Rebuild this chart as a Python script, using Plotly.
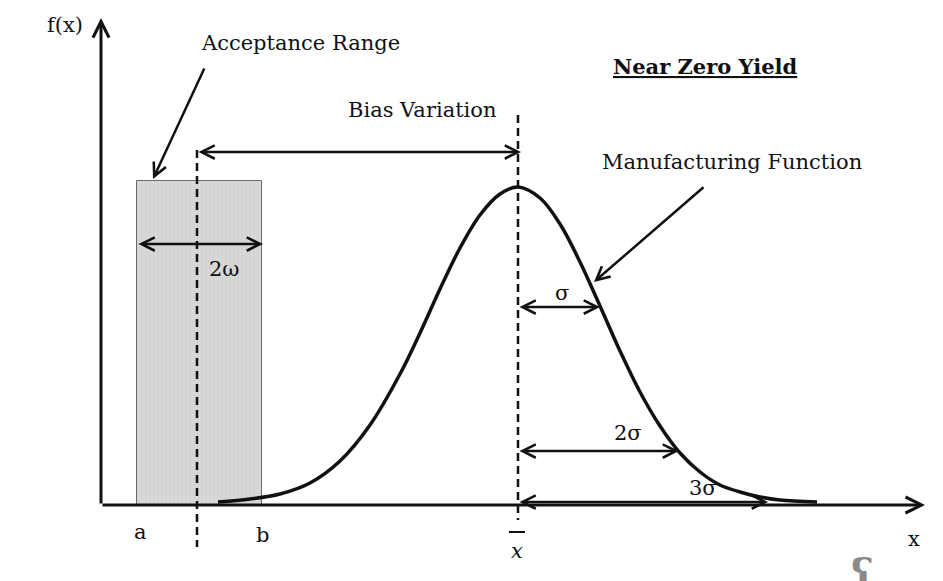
import plotly.graph_objects as go

# ---------------- data (x/y in drawing units, y = height above the x axis)
curve_x = [218, 250, 280, 310, 340, 370, 400, 420, 440, 460, 480, 500, 518,
           540, 560, 580, 600, 620, 640, 660, 680, 700, 720, 740, 760, 780, 817]
curve_y = [3, 6, 11, 22, 44, 80, 131, 172, 216, 257, 290, 311, 318,
           307, 281, 243, 199, 154, 113, 79, 52, 33, 20, 13, 8, 5, 3]

mean_x = 518
sigma_ends = [600, 679, 768]          # x where the 1σ, 2σ, 3σ arrows end
sigma_heights = [198, 54, 3]          # height of those arrows
sigma_labels = ["σ", "2σ", "3σ"]

range_a, range_b = 137, 262           # acceptance range edges
range_height = 324
range_center = 197                    # dashed centre line of acceptance range
omega_height = 261

bias_height = 353

axis_x_end = 925
axis_y_end = 487

FONT = "DejaVu Serif"
INK = "#111111"
FS = 21

fig = go.Figure()

# acceptance range box
fig.add_trace(go.Bar(
    x=[(range_a + range_b) / 2], y=[range_height], width=[range_b - range_a],
    marker=dict(color="#d5d5d5", line=dict(color="#6a6a6a", width=1),
                pattern=dict(shape="|", size=4, solidity=0.25,
                             fgcolor="#c6c6c6", bgcolor="#d8d8d8")),
    showlegend=False, hoverinfo="skip"))

# manufacturing function curve
fig.add_trace(go.Scatter(
    x=curve_x, y=curve_y, mode="lines",
    line=dict(color=INK, width=3.5, shape="spline", smoothing=1.0),
    showlegend=False, hoverinfo="skip"))

shapes = []
# dashed vertical lines
shapes.append(dict(type="line", x0=range_center, x1=range_center, y0=355, y1=-42,
                   line=dict(color=INK, width=2.5, dash="8px,5px")))
shapes.append(dict(type="line", x0=mean_x, x1=mean_x, y0=390, y1=-15,
                   line=dict(color=INK, width=2.5, dash="8px,5px")))
# bar over x in x-bar label
shapes.append(dict(type="line", x0=509, x1=525, y0=-27, y1=-27,
                   line=dict(color=INK, width=2)))

annotations = []


def arrow(x0, y0, x1, y1, both=False, width=2.5):
    annotations.append(dict(
        x=x1, y=y1, ax=x0, ay=y0, xref="x", yref="y", axref="x", ayref="y",
        text="", showarrow=True, arrowhead=5, startarrowhead=5,
        arrowsize=1.05, startarrowsize=1.05, arrowwidth=width, arrowcolor=INK,
        arrowside="end+start" if both else "end", standoff=0, startstandoff=0))


# axes
arrow(101, 0, axis_x_end, 0, width=3)
arrow(101, 0, 101, axis_y_end, width=3)

# pointer arrows
arrow(205, 438, 153, 326)
arrow(705, 319, 594, 223)

# double arrows
arrow(range_center, bias_height, 521, bias_height, both=True)
arrow(range_a, omega_height, range_b + 1, omega_height, both=True)
for xe, h in zip(sigma_ends, sigma_heights):
    arrow(mean_x, h, xe, h, both=True)


def label(x, y, text, size=FS, color=INK, **kw):
    annotations.append(dict(x=x, y=y, xref="x", yref="y", text=text, showarrow=False,
                            font=dict(family=FONT, size=size, color=color),
                            xanchor="center", yanchor="middle", **kw))


label(65, 480, "f(x)")
label(300, 462, "Acceptance Range")
label(705, 439, "<b><u>Near Zero Yield</u></b>")
label(422, 395, "Bias Variation")
label(732, 343, "Manufacturing Function")
label(224, 236, "2ω")
label(562, 212, sigma_labels[0])
label(628, 72, sigma_labels[1])
label(703, 17, sigma_labels[2])
label(140, -27, "a")
label(262, -30, "b")
label(517, -46, "<i>x</i>")
label(914, -34, "x")
label(862, -67, "<b>ʕ</b>", size=40, color="#8a8a8a")

# the page body has an 8px margin: shift the data window so the drawing lands in place
fig.update_layout(
    width=935, height=573, margin=dict(l=0, r=0, t=0, b=0),
    paper_bgcolor="white", plot_bgcolor="white",
    xaxis=dict(range=[8, 943], visible=False, fixedrange=True),
    yaxis=dict(range=[-76, 497], visible=False, fixedrange=True),
    shapes=shapes, annotations=annotations, bargap=0,
)

fig.write_html("out.html")
